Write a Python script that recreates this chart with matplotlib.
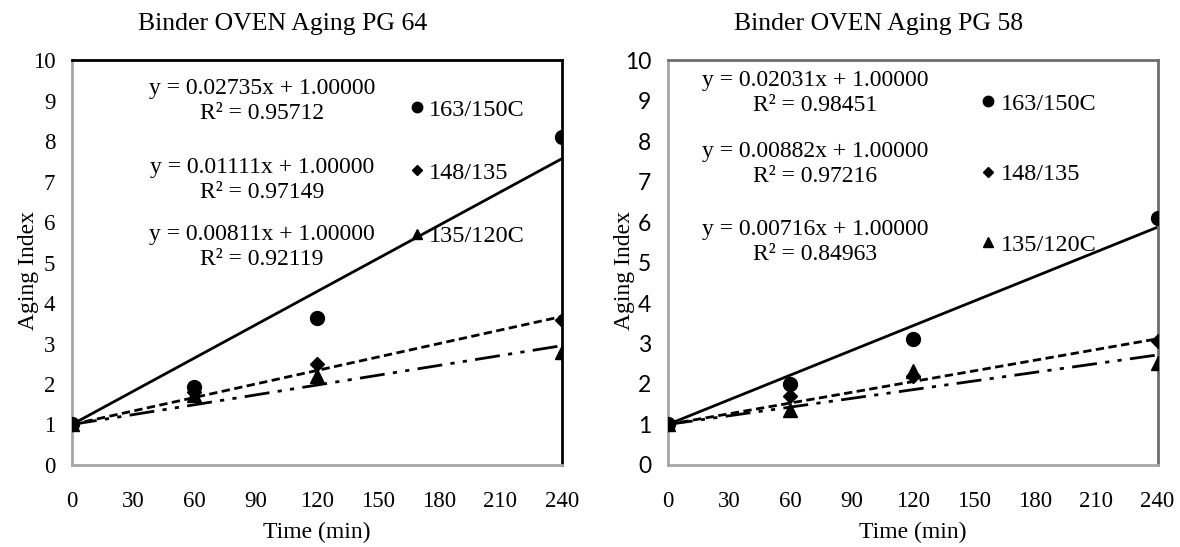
import matplotlib
matplotlib.use("Agg")
import numpy as np
import matplotlib.pyplot as plt
from matplotlib.lines import Line2D

plt.rcParams["font.family"] = ["Liberation Serif", "DejaVu Serif"]

# Data
time = [0, 60, 120, 240]
series_labels = ["163/150C", "148/135", "135/120C"]
markers = ["o", "D", "^"]
msizes = [10, 7, 10]
line_styles = ["-", (0, (3, 1.6)), (0, (9, 3, 1.5, 3, 1.5, 3))]

pg64_values = [[1.0, 1.92, 3.63, 8.10],
               [1.0, 1.80, 2.50, 3.58],
               [1.0, 1.72, 2.20, 2.80]]
pg64_slope = [0.02735, 0.01111, 0.00811]
pg64_r2 = [0.95712, 0.97149, 0.92119]

pg58_values = [[1.0, 2.00, 3.10, 6.10],
               [1.0, 1.70, 2.20, 3.05],
               [1.0, 1.35, 2.33, 2.52]]
pg58_slope = [0.02031, 0.00882, 0.00716]
pg58_r2 = [0.98451, 0.97216, 0.84963]

fig = plt.figure(figsize=(11.8, 5.47), dpi=100)
ax1 = fig.add_axes([0.061, 0.150, 0.415, 0.740])
ax2 = fig.add_axes([0.566, 0.150, 0.415, 0.740])


def draw_panel(ax, values, slopes, r2s, title, eq_x, eq_y, leg_anchor, leg_space,
               frame_color, sans_y):
    xs = np.array([0, 240])
    for vals, slope, m, ms, ls in zip(values, slopes, markers, msizes, line_styles):
        ax.plot(xs, 1.0 + slope * xs, color="black", lw=2, linestyle=ls, zorder=2)
        ax.plot(time, vals, linestyle="none", marker=m, markersize=ms, color="black", zorder=3)
    for i, (slope, r2) in enumerate(zip(slopes, r2s)):
        ax.text(eq_x, eq_y[i], "y = %.5fx + 1.00000\nR² = %.5f" % (slope, r2),
                ha="center", va="center", fontsize=17, linespacing=1.25)
    handles = [Line2D([], [], linestyle="none", marker=m, color="black", markersize=s * 0.75)
               for m, s in zip(markers, msizes)]
    ax.legend(handles, series_labels, loc="upper left", bbox_to_anchor=leg_anchor,
              frameon=False, fontsize=17.5, handlelength=0.6, handletextpad=0.2,
              labelspacing=leg_space, borderpad=0)

    ax.set_xlim(0, 240)
    ax.set_ylim(0, 10)
    ax.set_xticks(range(0, 241, 30))
    ax.set_yticks(range(0, 11))
    ax.tick_params(length=0, labelsize=16.5, pad=12)
    ax.tick_params(axis="x", pad=19)
    if sans_y:
        for lab in ax.get_yticklabels():
            lab.set_fontfamily("Lato")
    ax.set_xlabel("Time (min)", fontsize=17, labelpad=7)
    ax.set_ylabel("Aging Index", fontsize=17, va="center")
    ax.yaxis.set_label_coords(-0.088, 0.48)
    ax.set_title(title, fontsize=18.5, pad=22, x=0.43)
    for side in ["left", "bottom"]:
        ax.spines[side].set_color("#a6a6a6")
        ax.spines[side].set_linewidth(2)
    for side in ["top", "right"]:
        ax.spines[side].set_color(frame_color)
        ax.spines[side].set_linewidth(2)


draw_panel(ax1, pg64_values, pg64_slope, pg64_r2, "Binder OVEN Aging PG 64",
           93, [9.0, 7.05, 5.38], (0.665, 0.935), 1.7, "black", False)
draw_panel(ax2, pg58_values, pg58_slope, pg58_r2, "Binder OVEN Aging PG 58",
           72, [9.2, 7.43, 5.52], (0.615, 0.95), 2.0, "#6e6e6e", True)

plt.savefig("out.png", dpi=100)
